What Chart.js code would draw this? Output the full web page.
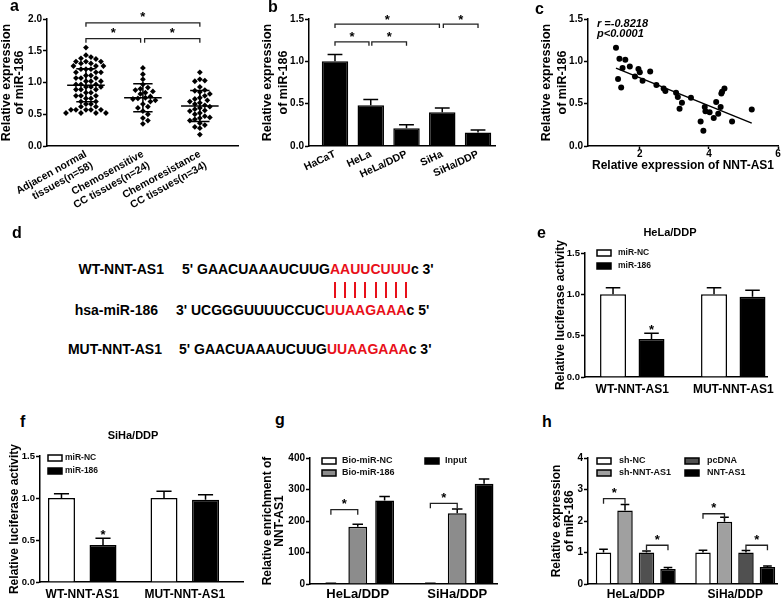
<!DOCTYPE html>
<html>
<head>
<meta charset="utf-8">
<script src="https://cdn.jsdelivr.net/npm/chart.js@4.4.0/dist/chart.umd.min.js"></script>
<style>
body { margin: 0; background: #fff; }
#fig { position: relative; width: 784px; height: 601px; overflow: hidden; font-family: "Liberation Sans", Arial, sans-serif; color: #000; }
canvas { position: absolute; }
.lbl { position: absolute; font-weight: bold; font-size: 16px; line-height: 1; }
.seq { position: absolute; font-weight: bold; font-size: 14px; line-height: 1; white-space: nowrap; }
.red { color: #e8101a; }
.ptitle { position: absolute; width: 100px; text-align: center; font-weight: bold; font-size: 11px; line-height: 1; }
.stat { position: absolute; font-weight: bold; font-style: italic; font-size: 11px; line-height: 1; }
.pair { position: absolute; width: 2px; height: 16px; top: 282px; background: #e8101a; }
</style>
</head>
<body>
<div id="fig">
  <canvas id="chartA" width="255" height="228" style="left:0;top:0"></canvas>
  <canvas id="chartB" width="255" height="200" style="left:260px;top:0"></canvas>
  <canvas id="chartC" width="264" height="200" style="left:520px;top:0"></canvas>
  <canvas id="chartE" width="234" height="163" style="left:550px;top:237px"></canvas>
  <canvas id="chartF" width="255" height="171" style="left:0;top:430px"></canvas>
  <canvas id="chartG" width="260" height="171" style="left:260px;top:430px"></canvas>
  <canvas id="chartH" width="244" height="171" style="left:540px;top:430px"></canvas>

  <div class="lbl" style="left:10px;top:-2px">a</div>
  <div class="lbl" style="left:268px;top:-1px">b</div>
  <div class="lbl" style="left:535px;top:1px">c</div>
  <div class="lbl" style="left:12px;top:225px">d</div>
  <div class="lbl" style="left:537px;top:225px">e</div>
  <div class="lbl" style="left:20px;top:414px">f</div>
  <div class="lbl" style="left:275px;top:412px">g</div>
  <div class="lbl" style="left:542px;top:414px">h</div>

  <div class="stat" style="left:597px;top:17.5px">r =-0.8218</div>
  <div class="stat" style="left:597px;top:27.5px">p&lt;0.0001</div>

  <div class="ptitle" style="left:620px;top:227px">HeLa/DDP</div>
  <div class="ptitle" style="left:83px;top:430px">SiHa/DDP</div>

  <!-- panel d: binding site -->
  <div class="seq" style="left:0;width:164px;text-align:right;top:262px">WT-NNT-AS1</div>
  <div class="seq" style="left:182px;top:262px">5' GAACUAAAUCUUG<span class="red" id="site">AAUUCUUU</span>c 3'</div>
  <div class="seq" style="left:0;width:158px;text-align:right;top:303px">hsa-miR-186</div>
  <div class="seq" style="left:176px;top:303px">3' UCGGGUUUUCCUC<span class="red">UUAAGAAA</span>c 5'</div>
  <div class="seq" style="left:0;width:162px;text-align:right;top:342px">MUT-NNT-AS1</div>
  <div class="seq" style="left:179px;top:342px">5' GAACUAAAUCUUG<span class="red">UUAAGAAA</span>c 3'</div>
</div>

<script>
'use strict'

// ---- data ----

// a: miR-186 in tissues (scatter + mean/SD)
let groupLabels = [['Adjacen normal', 'tissues(n=58)'], ['Chemosensitive', 'CC tissues(n=24)'], ['Chemoresistance', 'CC tissues(n=34)']];
let adjacentVals = [1.55, 1.43, 1.40, 1.38, 1.37, 1.33, 1.33, 1.33, 1.30, 1.30,
  1.26, 1.26, 1.26, 1.21, 1.21, 1.21, 1.16, 1.16, 1.16, 1.11,
  1.11, 1.07, 1.07, 1.07, 1.02, 1.02, 1.02, 0.97, 0.97, 0.97,
  0.93, 0.93, 0.93, 0.89, 0.89, 0.89, 0.84, 0.84, 0.79, 0.79,
  0.79, 0.75, 0.75, 0.70, 0.70, 0.66, 0.66, 0.62, 0.62, 0.57,
  0.57, 0.57, 0.57, 0.57, 0.52, 0.52, 0.52, 0.52];
let sensitiveVals = [1.23, 1.13, 1.05, 0.97, 0.92, 0.90, 0.88, 0.86, 0.84, 0.82, 0.78, 0.76,
  0.75, 0.74, 0.72, 0.70, 0.66, 0.62, 0.60, 0.55, 0.50, 0.44, 0.40, 0.35];
let resistantVals = [1.16, 1.05, 1.03, 1.02, 0.93, 0.88, 0.87, 0.85, 0.82, 0.79, 0.76, 0.74,
  0.72, 0.70, 0.68, 0.66, 0.64, 0.62, 0.60, 0.58, 0.56, 0.55, 0.52, 0.50,
  0.47, 0.45, 0.44, 0.42, 0.40, 0.36, 0.33, 0.30, 0.28, 0.18];
let groupMean = [0.955, 0.76, 0.63];
let groupSd = [0.26, 0.22, 0.245];

// b: cell lines
let cellLines = ['HaCaT', 'HeLa', 'HeLa/DDP', 'SiHa', 'SiHa/DDP'];
let cellExpr = [1.0, 0.48, 0.21, 0.40, 0.16];
let cellErr = [0.08, 0.07, 0.04, 0.05, 0.03];

// c: correlation
let nntX = [1.31, 1.41, 1.58, 1.50, 1.37, 1.46, 1.71, 1.86, 1.96, 2.00, 2.08, 2.30,
  2.48, 2.69, 2.74, 3.05, 3.10, 3.22, 3.15, 3.48, 3.76, 3.84, 3.88, 3.90,
  4.02, 4.14, 4.21, 4.27, 4.34, 4.36, 4.38, 4.45, 4.67, 5.24];
let mirY = [1.16, 1.03, 1.02, 0.92, 0.79, 0.69, 0.94, 0.82, 0.91, 0.87, 0.77, 0.88,
  0.72, 0.68, 0.65, 0.63, 0.58, 0.51, 0.44, 0.57, 0.29, 0.18, 0.46, 0.41,
  0.40, 0.33, 0.52, 0.38, 0.46, 0.62, 0.64, 0.68, 0.29, 0.43];
let fitX = [1.31, 5.24];
let fitY = [0.92, 0.27];

// e, f: luciferase
let reporterLabels = ['WT-NNT-AS1', 'MUT-NNT-AS1'];
let helaNC = [1.0, 1.0], helaNCErr = [0.08, 0.08];
let hela186 = [0.46, 0.97], hela186Err = [0.07, 0.08];
let sihaNC = [1.0, 1.0], sihaNCErr = [0.05, 0.08];
let siha186 = [0.44, 0.98], siha186Err = [0.08, 0.06];

// g: RNA pull-down
let cellGroups = ['HeLa/DDP', 'SiHa/DDP'];
let bioNC = [2, 2], bioNCErr = [0.5, 0.5];
let bio186 = [182, 225], bio186Err = [8, 13];
let inputVals = [265, 318], inputErr = [13, 15];

// h: miR-186 after knockdown / overexpression
let shNC = [1.0, 1.0], shNCErr = [0.1, 0.07];
let shNNT = [2.33, 1.98], shNNTErr = [0.19, 0.14];
let pcDNA = [1.0, 1.0], pcDNAErr = [0.05, 0.06];
let nntOE = [0.48, 0.54], nntOEErr = [0.04, 0.03];

// ---- helpers ----
const F = '"Liberation Sans", Arial, Helvetica, sans-serif';
Chart.defaults.font.family = F;
Chart.defaults.color = '#000';
Chart.defaults.animation = false;
Chart.defaults.plugins.legend.display = false;
Chart.defaults.plugins.tooltip.enabled = false;

function bold(size, lh) {
  return { family: F, size: size, weight: 'bold', lineHeight: lh || 1.2 };
}

function yAxis(o) {
  return {
    min: 0, max: o.max,
    ticks: { stepSize: o.step, padding: 1, color: '#000', font: bold(o.tick || 10), callback: o.fmt },
    grid: { drawOnChartArea: false, drawTicks: true, tickLength: 4, tickWidth: 1.5, tickColor: '#000' },
    border: { color: '#000', width: 1.5 },
    title: { display: true, text: o.title, color: '#000', font: bold(o.tsize, o.lh), padding: { top: o.tpad, bottom: 0 } },
    afterFit: s => { s.width = o.width; }
  };
}

// linear x axis with one labelled tick per category (offset off so min/max hold)
function xAxis(o) {
  let start = o.start || 0;
  return {
    type: 'linear', min: o.min, max: o.max, offset: false,
    afterBuildTicks: s => { s.ticks = o.labels.map((_, i) => ({ value: start + i })); },
    ticks: { autoSkip: false, minRotation: o.rot || 0, maxRotation: o.rot || 0, padding: o.pad, color: '#000',
      font: bold(o.size), callback: (v, i) => o.labels[i] },
    grid: { display: false, drawTicks: false, tickLength: 0, offset: false },
    border: { color: '#000', width: 1.5 },
    afterFit: s => { s.height = o.height; }
  };
}

function bars(label, vals, errs, color) {
  return {
    label: label,
    data: vals.map((v, i) => ({ x: i, y: v })),
    errors: errs,
    backgroundColor: color, borderColor: '#000', borderWidth: 1.5, borderSkipped: 'bottom'
  };
}

// simple beeswarm so diamonds do not overlap (pixel ratios of panel a)
function swarm(values, center) {
  let xPx = 57, yPx = 63.5, d = 5;
  let placed = [];
  return values.map(v => {
    let y = v * yPx;
    for (let k = 0; ; k++) {
      let off = (k % 2 ? 1 : -1) * Math.ceil(k / 2) * d * 0.5;
      if (placed.every(p => (p.x - off) ** 2 + (p.y - y) ** 2 >= d * d)) {
        placed.push({ x: off, y: y });
        return { x: center + off / xPx, y: v };
      }
    }
  });
}

function star(ctx, x, cy, size) {
  ctx.fillStyle = '#000';
  ctx.font = 'bold ' + size + 'px ' + F;
  ctx.textAlign = 'center';
  ctx.textBaseline = 'alphabetic';
  ctx.fillText('*', x, cy + size * 0.58);
}

// ---- plugins ----
const errorBars = {
  id: 'errorBars',
  afterDatasetsDraw(chart) {
    let ctx = chart.ctx, ys = chart.scales.y;
    chart.data.datasets.forEach((ds, di) => {
      if (!ds.errors) return;
      chart.getDatasetMeta(di).data.forEach((bar, i) => {
        let top = ys.getPixelForValue(ds.data[i].y + ds.errors[i]);
        let cap = bar.width * 0.28;
        ctx.save();
        ctx.strokeStyle = '#000';
        ctx.lineWidth = 1.5;
        ctx.beginPath();
        ctx.moveTo(bar.x, bar.y);
        ctx.lineTo(bar.x, top);
        ctx.moveTo(bar.x - cap, top);
        ctx.lineTo(bar.x + cap, top);
        ctx.stroke();
        ctx.restore();
      });
    });
  }
};

const brackets = {
  id: 'brackets',
  afterDatasetsDraw(chart, args, opts) {
    let items = opts.items || [];
    let ctx = chart.ctx, xs = chart.scales.x, ys = chart.scales.y;
    let px = ref => Array.isArray(ref) ? chart.getDatasetMeta(ref[0]).data[ref[1]].x : xs.getPixelForValue(ref);
    items.forEach(b => {
      let yy = ys.getPixelForValue(b.y);
      ctx.save();
      ctx.strokeStyle = '#222';
      ctx.lineWidth = 1.3;
      if (b.from !== undefined) {
        let x1 = px(b.from), x2 = px(b.to);
        ctx.beginPath();
        ctx.moveTo(x1, yy + opts.drop);
        ctx.lineTo(x1, yy);
        ctx.lineTo(x2, yy);
        ctx.lineTo(x2, yy + opts.drop);
        ctx.stroke();
        star(ctx, (x1 + x2) / 2, yy - opts.gap, opts.size);
      } else {
        star(ctx, px(b.at), yy, opts.size);
      }
      ctx.restore();
    });
  }
};

const boxLegend = {
  id: 'boxLegend',
  afterDraw(chart, args, o) {
    if (!o.rows) return;
    let ctx = chart.ctx, a = chart.chartArea;
    chart.data.datasets.forEach((ds, i) => {
      let col = Math.floor(i / o.rows), row = i % o.rows;
      let bx = a.left + o.x + col * (o.colGap || 0), cy = a.top + o.y + row * o.rowGap;
      ctx.save();
      ctx.fillStyle = ds.backgroundColor;
      ctx.strokeStyle = '#000';
      ctx.lineWidth = 1.5;
      ctx.fillRect(bx, cy - 3, 14, 6);
      ctx.strokeRect(bx, cy - 3, 14, 6);
      ctx.fillStyle = '#111';
      ctx.font = 'bold ' + o.size + 'px ' + F;
      ctx.textAlign = 'left';
      ctx.textBaseline = 'middle';
      ctx.fillText(ds.label, bx + o.textGap, cy);
      ctx.restore();
    });
  }
};

const meanSd = {
  id: 'meanSd',
  afterDatasetsDraw(chart) {
    let ctx = chart.ctx, xs = chart.scales.x, ys = chart.scales.y;
    let seg = (x1, y1, x2, y2) => {
      ctx.moveTo(xs.getPixelForValue(x1), ys.getPixelForValue(y1));
      ctx.lineTo(xs.getPixelForValue(x2), ys.getPixelForValue(y2));
    };
    ctx.save();
    ctx.strokeStyle = '#000';
    ctx.lineWidth = 1.5;
    ctx.beginPath();
    groupMean.forEach((m, i) => {
      let x = i + 1, s = groupSd[i];
      seg(x - 0.33, m, x + 0.33, m);
      seg(x, m - s, x, m + s);
      seg(x - 0.17, m + s, x + 0.17, m + s);
      seg(x - 0.17, m - s, x + 0.17, m - s);
    });
    ctx.stroke();
    ctx.restore();
  }
};

let fmt1 = v => v.toFixed(1);

// ---- a ----
new Chart(document.getElementById('chartA'), {
  type: 'scatter',
  data: {
    datasets: [adjacentVals, sensitiveVals, resistantVals].map((vals, g) => ({
      data: swarm(vals, g + 1),
      pointStyle: 'rectRot', pointRadius: 2.9, pointBackgroundColor: '#000', pointBorderWidth: 0
    }))
  },
  options: {
    responsive: false,
    layout: { padding: { left: 0, top: 19, right: 17, bottom: 0 } },
    scales: {
      x: xAxis({ labels: groupLabels, start: 1, min: 0.316, max: 3.67, rot: 29, size: 10.5, pad: 2, height: 82 }),
      y: yAxis({ max: 2, step: 0.5, fmt: fmt1, title: ['Relative expression', 'of miR-186'], tsize: 12.5, lh: '13px', tpad: 0.5, width: 47 })
    },
    plugins: {
      brackets: { drop: 4, gap: 9, size: 13, items: [
        { from: 1, to: 3, y: 1.94 },
        { from: 1, to: 1.96, y: 1.69 },
        { from: 2.03, to: 3, y: 1.69 }
      ] }
    }
  },
  plugins: [meanSd, brackets]
});

// ---- b ----
new Chart(document.getElementById('chartB'), {
  type: 'bar',
  data: { datasets: [Object.assign(bars('miR-186', cellExpr, cellErr, '#000'), { barPercentage: 0.74, categoryPercentage: 1 })] },
  options: {
    responsive: false,
    layout: { padding: { left: 0, top: 19, right: 20, bottom: 0 } },
    scales: {
      x: xAxis({ labels: cellLines, min: -0.727, max: 4.475, rot: 25, size: 10.5, pad: 2, height: 54 }),
      y: yAxis({ max: 1.5, step: 0.5, fmt: fmt1, title: ['Relative expression', 'of miR-186'], tsize: 12.5, lh: '16px', tpad: 0, width: 49 })
    },
    plugins: {
      brackets: { drop: 4, gap: 8, size: 13, items: [
        { from: 0, to: 2.92, y: 1.44 },
        { from: 3.03, to: 4, y: 1.44 },
        { from: 0, to: 0.95, y: 1.23 },
        { from: 1.03, to: 2, y: 1.23 }
      ] }
    }
  },
  plugins: [errorBars, brackets]
});

// ---- c ----
new Chart(document.getElementById('chartC'), {
  type: 'scatter',
  data: {
    datasets: [
      { data: nntX.map((x, i) => ({ x: x, y: mirY[i] })), pointRadius: 3, pointBackgroundColor: '#000', pointBorderWidth: 0 },
      { type: 'line', data: fitX.map((x, i) => ({ x: x, y: fitY[i] })), borderColor: '#000', borderWidth: 1.5, pointRadius: 0, fill: false }
    ]
  },
  options: {
    responsive: false,
    layout: { padding: { left: 0, top: 19, right: 6, bottom: 27 } },
    scales: {
      x: {
        type: 'linear', min: 0.5, max: 6, offset: false,
        afterBuildTicks: s => { s.ticks = [2, 4, 6].map(v => ({ value: v })); },
        ticks: { padding: 0, color: '#000', font: bold(10, 1), callback: v => v },
        grid: { drawOnChartArea: false, drawTicks: true, tickLength: 3, tickWidth: 1.5, tickColor: '#000' },
        border: { color: '#000', width: 1.5 },
        title: { display: true, text: 'Relative expression of NNT-AS1', color: '#000', font: bold(12), padding: 0 },
        afterFit: s => { s.height = 27; }
      },
      y: yAxis({ max: 1.5, step: 0.5, fmt: fmt1, title: ['Relative expression', 'of miR-186'], tsize: 12.5, lh: '16px', tpad: 19, width: 68 })
    }
  }
});

// ---- e ----
new Chart(document.getElementById('chartE'), {
  type: 'bar',
  data: { datasets: [bars('miR-NC', helaNC, helaNCErr, '#fff'), bars('miR-186', hela186, hela186Err, '#000')] },
  options: {
    responsive: false,
    datasets: { bar: { categoryPercentage: 0.762, barPercentage: 0.675 } },
    layout: { padding: { left: 0, top: 16, right: 17, bottom: 0 } },
    scales: {
      x: xAxis({ labels: reporterLabels, min: -0.468, max: 1.334, size: 12, pad: 5, height: 23 }),
      y: yAxis({ max: 1.5, step: 0.5, fmt: fmt1, tick: 9.5, title: 'Relative luciferase activity', tsize: 12, lh: '14px', tpad: 4, width: 35 })
    },
    plugins: {
      brackets: { size: 13, items: [{ at: [1, 0], y: 0.61 }] },
      boxLegend: { rows: 2, x: 12, y: 0, rowGap: 13, textGap: 21, size: 8.5 }
    }
  },
  plugins: [errorBars, brackets, boxLegend]
});

// ---- f ----
new Chart(document.getElementById('chartF'), {
  type: 'bar',
  data: { datasets: [bars('miR-NC', sihaNC, sihaNCErr, '#fff'), bars('miR-186', siha186, siha186Err, '#000')] },
  options: {
    responsive: false,
    datasets: { bar: { categoryPercentage: 0.81, barPercentage: 0.65 } },
    layout: { padding: { left: 0, top: 26, right: 12, bottom: 0 } },
    scales: {
      x: xAxis({ labels: reporterLabels, min: -0.412, max: 1.568, size: 12, pad: 5, height: 19 }),
      y: yAxis({ max: 1.5, step: 0.5, fmt: fmt1, tick: 9.5, title: 'Relative luciferase activity', tsize: 12, lh: '14px', tpad: 8, width: 40 })
    },
    plugins: {
      brackets: { size: 13, items: [{ at: [1, 0], y: 0.60 }] },
      boxLegend: { rows: 2, x: 8, y: 2, rowGap: 13, textGap: 17, size: 8.5 }
    }
  },
  plugins: [errorBars, brackets, boxLegend]
});

// ---- g ----
new Chart(document.getElementById('chartG'), {
  type: 'bar',
  data: { datasets: [
    bars('Bio-miR-NC', bioNC, bioNCErr, '#fff'),
    bars('Bio-miR-186', bio186, bio186Err, '#8c8c8c'),
    bars('Input', inputVals, inputErr, '#000')
  ] },
  options: {
    responsive: false,
    datasets: { bar: { categoryPercentage: 0.81, barPercentage: 0.70 } },
    layout: { padding: { left: 0, top: 28, right: 23, bottom: 0 } },
    scales: {
      x: xAxis({ labels: cellGroups, min: -0.48, max: 1.40, size: 13, pad: 2.5, height: 17 }),
      y: yAxis({ max: 400, step: 100, fmt: v => v, title: ['Relative enrichment of', 'NNT-AS1'], tsize: 12, lh: '12px', tpad: 2, width: 50 })
    },
    plugins: {
      brackets: { drop: 5, gap: 9, size: 13, items: [
        { from: [0, 0], to: [1, 0], y: 236 },
        { from: [0, 1], to: [1, 1], y: 256 }
      ] },
      boxLegend: { rows: 2, x: 12, y: 3, rowGap: 12, colGap: 103, textGap: 20, size: 9 }
    }
  },
  plugins: [errorBars, brackets, boxLegend]
});

// ---- h ----
new Chart(document.getElementById('chartH'), {
  type: 'bar',
  data: { datasets: [
    bars('sh-NC', shNC, shNCErr, '#fff'),
    bars('sh-NNT-AS1', shNNT, shNNTErr, '#a0a0a0'),
    bars('pcDNA', pcDNA, pcDNAErr, '#505050'),
    bars('NNT-AS1', nntOE, nntOEErr, '#000')
  ] },
  options: {
    responsive: false,
    datasets: { bar: { categoryPercentage: 0.864, barPercentage: 0.72 } },
    layout: { padding: { left: 0, top: 28, right: 7, bottom: 0 } },
    scales: {
      x: xAxis({ labels: cellGroups, min: -0.48, max: 1.42, size: 12, pad: 3, height: 17 }),
      y: yAxis({ max: 4, step: 1, fmt: v => v, title: ['Relative expression', 'of miR-186'], tsize: 12, lh: '13px', tpad: 10.5, width: 48 })
    },
    plugins: {
      brackets: { drop: 5, gap: 9, size: 13, items: [
        { from: [0, 0], to: [1, 0], y: 2.71 },
        { from: [2, 0], to: [3, 0], y: 1.23 },
        { from: [0, 1], to: [1, 1], y: 2.23 },
        { from: [2, 1], to: [3, 1], y: 1.23 }
      ] },
      boxLegend: { rows: 2, x: 9, y: 3, rowGap: 12, colGap: 88, textGap: 22, size: 9 }
    }
  },
  plugins: [errorBars, brackets, boxLegend]
});

// ---- d: base-pair ticks under the seed letters ----
let fig = document.getElementById('fig');
let site = document.getElementById('site').getBoundingClientRect();
let figBox = fig.getBoundingClientRect();
for (let i = 0; i < 8; i++) {
  let bar = document.createElement('div');
  bar.className = 'pair';
  bar.style.left = (site.left - figBox.left + (i + 0.5) * site.width / 8 - 1) + 'px';
  fig.appendChild(bar);
}
</script>
</body>
</html>
